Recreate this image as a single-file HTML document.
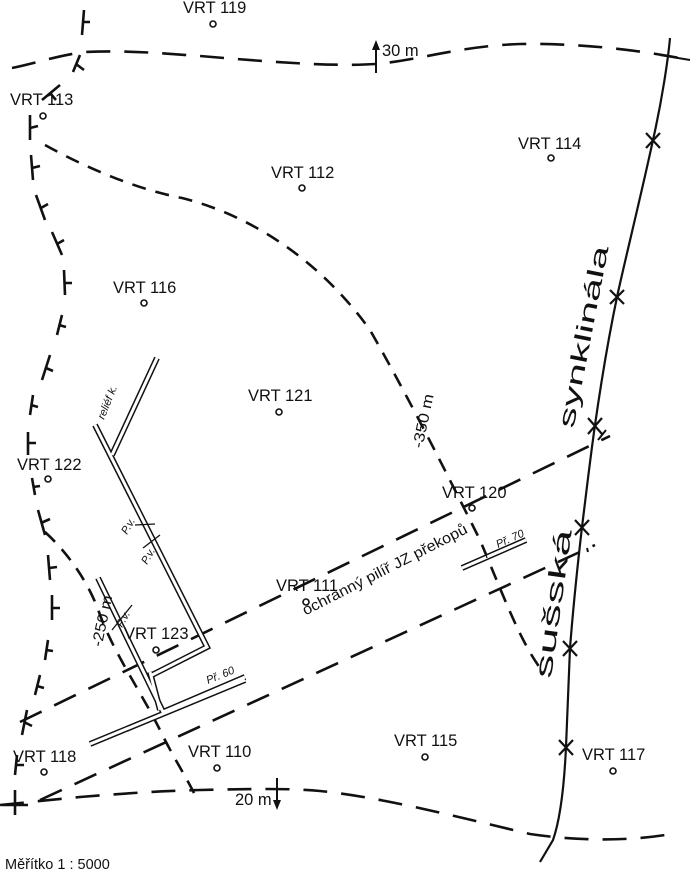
<!DOCTYPE html>
<html><head><meta charset="utf-8"><style>
html,body{margin:0;padding:0;background:#fff;}
svg{display:block;}
text{font-family:"Liberation Sans",sans-serif;fill:#111;}
</style></head><body>
<svg width="700" height="873" viewBox="0 0 700 873" xmlns="http://www.w3.org/2000/svg">
<g fill="none" stroke="#111" stroke-width="2.6">
<path d="M12,68 C40,62 60,55 85,52 C130,50 170,54 200,56 C260,61 330,67 376,64 C420,60 460,46 520,44 C580,43 640,50 690,60" stroke-dasharray="24 14"/>
<path d="M0,805 C20,803 50,800 80,797 C130,793 160,791 200,790 C250,789 290,788 320,791 C380,797 450,815 530,834 C570,840 620,842 665,835" stroke-dasharray="24 14"/>
<path d="M84,10 L82,35 M80,55 L73,72 M60,85 L42,100 M30,115 L30,140 M31,155 L33,180 M36,195 L45,220 M52,232 L62,255 M64,270 L65,295 M62,315 L57,335 M50,355 L42,380 M33,395 L30,415 M28,432 L28,455 M32,478 L35,495 M38,510 L45,535 M48,555 L50,580 M52,595 L52,620 M48,640 L45,660 M40,675 L35,695 M27,710 L22,735 M17,755 L15,775 M15,790 L15,815"/>
<path d="M82,22 L90,22 M76,64 L84,70 M50,93 L56,100 M30,128 L38,126 M32,168 L40,166 M41,208 L48,204 M57,244 L64,240 M64,283 L72,283 M59,325 L66,327 M46,368 L53,371 M31,405 L38,407 M28,443 L36,443 M33,487 L40,486 M41,523 L50,519 M49,568 L57,567 M52,608 L60,608 M46,650 L53,651 M37,686 L44,688 M24,722 L32,726 M16,765 L24,765 M2,805 L28,805"/>
<path d="M45,145 C90,170 140,190 182,198 C250,215 320,260 370,330 C410,400 450,480 480,540 C505,600 520,640 540,668" stroke-dasharray="14 10"/>
<path d="M45,532 C70,555 90,585 100,615 C115,655 140,690 160,730 C172,755 185,775 195,795" stroke-dasharray="14 10"/>
<path d="M20,722 L610,436" stroke-dasharray="24 14"/>
<path d="M40,800 L595,545" stroke-dasharray="24 14"/>
<path d="M670,38 C668,60 662,100 653,140 C640,200 625,260 617,297 C607,345 600,390 595,425 C590,460 586,495 582,527 C577,570 573,610 570,648 C568,690 567,720 566,747 C564,790 560,820 553,840 L540,862" stroke-width="2.2"/>
<path d="M646,133 L660,148 M660,133 L646,148 M610,290 L624,304 M624,290 L610,304 M588,418 L602,434 M602,418 L588,434 M575,520 L589,535 M589,520 L575,535 M563,641 L577,656 M577,641 L563,656 M559,740 L573,755 M573,740 L559,755" stroke-width="2.2"/>
<path d="M598,440 L606,430 M587,548 L588,552 M660,55 L690,60" stroke-width="2"/>
<path d="M376,73 L376,48" stroke-width="2"/>
<path d="M277,778 L277,800" stroke-width="2"/>
</g>
<path d="M372,50 L376,40 L380,50 Z" fill="#111"/>
<path d="M273,800 L277,810 L281,800 Z" fill="#111"/>
<g fill="none" stroke-linejoin="miter">
<g stroke="#111" stroke-width="6">
<path d="M95,425 L207,647 L152,675"/>
<path d="M112,455 L157,358"/>
<path d="M98,578 L163,712 L245,677"/>
<path d="M150,672 L160,710"/>
<path d="M90,744 L245,680"/>
<path d="M462,568 L526,540"/>
</g>
<g stroke="#fff" stroke-width="3">
<path d="M95,425 L207,647 L152,675"/>
<path d="M112,455 L157,358"/>
<path d="M98,578 L163,712 L245,677"/>
<path d="M150,672 L160,710"/>
<path d="M90,744 L245,680"/>
<path d="M462,568 L526,540"/>
</g>
</g>
<g stroke="#111" stroke-width="1.3">
<path d="M135,525 L155,524 M143,548 L160,535 M112,630 L132,605 M484,548 L487,558"/>
</g>
<g fill="#fff" stroke="#111" stroke-width="1.6">
<circle cx="213" cy="24" r="3"/><circle cx="43" cy="116" r="3"/><circle cx="551" cy="158" r="3"/>
<circle cx="302" cy="188" r="3"/><circle cx="144" cy="303" r="3"/><circle cx="279" cy="412" r="3"/>
<circle cx="48" cy="479" r="3"/><circle cx="472" cy="508" r="3"/><circle cx="306" cy="602" r="3"/>
<circle cx="156" cy="650" r="3"/><circle cx="44" cy="772" r="3"/><circle cx="217" cy="768" r="3"/>
<circle cx="425" cy="757" r="3"/><circle cx="613" cy="771" r="3"/>
</g>
<g font-size="16.5">
<text x="183" y="13">VRT 119</text>
<text x="10" y="105">VRT 113</text>
<text x="518" y="149">VRT 114</text>
<text x="271" y="178">VRT 112</text>
<text x="113" y="293">VRT 116</text>
<text x="248" y="401">VRT 121</text>
<text x="17" y="470">VRT 122</text>
<text x="442" y="498">VRT 120</text>
<text x="276" y="591">VRT 111</text>
<text x="124" y="639">VRT 123</text>
<text x="13" y="762">VRT 118</text>
<text x="188" y="757">VRT 110</text>
<text x="394" y="746">VRT 115</text>
<text x="582" y="760">VRT 117</text>
<text x="382" y="56">30 m</text>
<text x="235" y="805">20 m</text>
<text x="5" y="869" font-size="14.5">Měřítko 1 : 5000</text>
</g>
<text font-size="23" transform="translate(585,337) rotate(-79)" text-anchor="middle" dominant-baseline="middle" textLength="185" lengthAdjust="spacingAndGlyphs">synklinála</text>
<text font-size="24" transform="translate(555,604) rotate(-82)" text-anchor="middle" dominant-baseline="middle" textLength="150" lengthAdjust="spacingAndGlyphs">sušská</text>
<text font-size="15" transform="translate(428,422) rotate(-78)" text-anchor="middle" textLength="55" lengthAdjust="spacingAndGlyphs">-350 m</text>
<text font-size="15" transform="translate(107,622) rotate(-78)" text-anchor="middle" textLength="52" lengthAdjust="spacingAndGlyphs">-250 m</text>
<text font-size="15" transform="translate(387,574) rotate(-27)" text-anchor="middle" textLength="183" lengthAdjust="spacingAndGlyphs">ochranný pilíř JZ překopů</text>
<g font-size="11" font-style="italic">
<text transform="translate(104,420) rotate(-68)">reliéf k.</text>
<text transform="translate(127,535) rotate(-60)">P.v.</text>
<text transform="translate(147,565) rotate(-60)">P.v.</text>
<text transform="translate(122,628) rotate(-60)">P.v.</text>
<text transform="translate(208,684) rotate(-22)">Př. 60</text>
<text transform="translate(498,548) rotate(-24)">Př. 70</text>
</g>
</svg>
</body></html>
